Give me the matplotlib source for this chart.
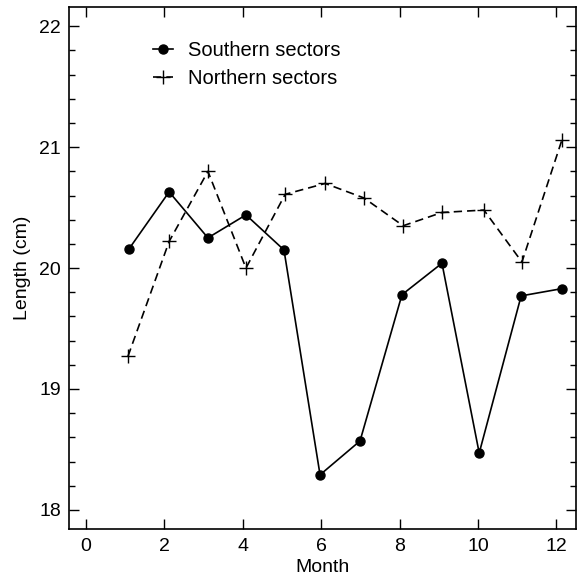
import numpy as np
import matplotlib
matplotlib.use('Agg')
from matplotlib import pyplot as plt
from matplotlib.ticker import MultipleLocator

# values
south_month = [1.10, 2.12, 3.11, 4.08, 5.05, 5.97, 6.99, 8.06, 9.08, 10.03, 11.10, 12.14]
south_len = [20.16, 20.63, 20.25, 20.44, 20.15, 18.29, 18.57, 19.78, 20.04, 18.47, 19.77, 19.83]
north_month = [1.07, 2.12, 3.11, 4.08, 5.08, 6.10, 7.09, 8.09, 9.08, 10.15, 11.12, 12.14]
north_len = [19.27, 20.22, 20.80, 20.00, 20.61, 20.70, 20.58, 20.35, 20.46, 20.48, 20.05, 21.06]

plt.rcParams['font.family'] = ['Liberation Sans', 'DejaVu Sans']
plt.rcParams['font.size'] = 13

fig = plt.figure(figsize=(5.86, 5.79), dpi=100)
ax = fig.add_axes([0.118, 0.086, 0.865, 0.902])

ax.plot(south_month, south_len, '-', color='black', lw=1.2,
        marker='o', ms=6.5, label='Southern sectors')
ax.plot(north_month, north_len, '--', color='black', lw=1.2, dashes=(5, 3),
        marker='+', ms=10, mew=1.0, label='Northern sectors')

ax.set_xlim(-0.43, 12.5)
ax.set_ylim(17.84, 22.16)
ax.xaxis.set_major_locator(MultipleLocator(2))
ax.yaxis.set_major_locator(MultipleLocator(1))
ax.yaxis.set_minor_locator(MultipleLocator(0.2))
ax.tick_params(which='both', direction='in', top=True, right=True, labelsize=14, pad=6)
ax.tick_params(which='major', length=7, width=1)
ax.tick_params(which='minor', length=4, width=1)
for s in ax.spines.values():
    s.set_linewidth(1.2)

ax.set_xlabel('Month', fontsize=14, labelpad=3)
ax.set_ylabel('Length (cm)', fontsize=14, labelpad=6)

ax.legend(loc='upper left', bbox_to_anchor=(0.13, 0.97), frameon=False,
          fontsize=14.5, handlelength=1.0, handletextpad=0.75, labelspacing=0.45)

fig.savefig('out.png', dpi=100)
